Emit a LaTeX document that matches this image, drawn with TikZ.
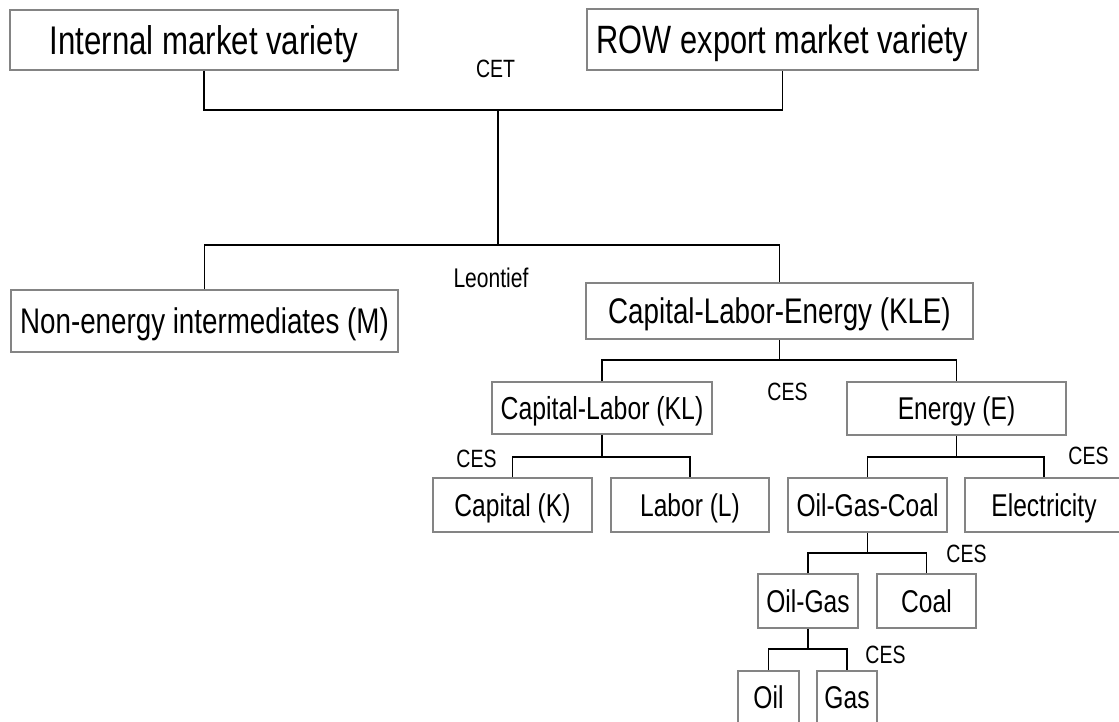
\documentclass[tikz,border=0pt]{standalone}
\usepackage{fontspec}
\newfontfamily\diagfont[FakeStretch=0.78]{Liberation Sans}
\definecolor{boxgray}{RGB}{132,132,132}
\begin{document}
\begin{tikzpicture}[x=1pt,y=-1pt,
	box/.style={draw=boxgray, line width=1.5pt, inner sep=0pt, font=\diagfont\fontsize{#1}{#1}\selectfont, text height=0.72*#1pt, text depth=0pt},
	box/.default=31.5,
	con/.style={black, line width=1.8pt},
	lab/.style={inner sep=0pt, font=\diagfont\fontsize{25}{30}\selectfont}]
	\clip (0,0) rectangle (1119,722);
	\node[box=40, minimum width=388, minimum height=60] (int) at (204,40) {Internal market variety};
	\node[box=39.5, minimum width=391, minimum height=61] (row) at (782.5,39.5) {ROW export market variety};
	\node[lab] (cet) at (495.5,69) {CET};
	\coordinate (t0) at (498,110);
	\coordinate (t1) at (498,245);
	\node[box=35.6, minimum width=387, minimum height=62] (nonen) at (204.5,321) {Non-energy intermediates (M)};
	\node[box=35.6, minimum width=387, minimum height=56] (kle) at (779.5,311) {Capital-Labor-Energy (KLE)};
	\node[lab, font=\diagfont\fontsize{27}{32}\selectfont] (leon) at (491,278) {Leontief};
	\coordinate (k0) at (779.5,360);
	\node[box=31.8, minimum width=220, minimum height=52] (kl) at (602,408) {Capital-Labor (KL)};
	\node[box, minimum width=219, minimum height=53] (en) at (956.5,408.5) {Energy (E)};
	\node[lab] (ces1) at (787.5,391.5) {CES};
	\coordinate (l0) at (602,457);
	\coordinate (e0) at (956.5,457);
	\node[box, minimum width=159, minimum height=54] (cap) at (512.5,505) {Capital (K)};
	\node[box, minimum width=158, minimum height=54] (lab) at (690,505) {Labor (L)};
	\node[box, minimum width=159, minimum height=54] (ogc) at (867.5,505) {Oil-Gas-Coal};
	\node[box, minimum width=158, minimum height=54] (elec) at (1044,505) {Electricity};
	\node[lab] (ces2) at (476.5,458.5) {CES};
	\node[lab] (ces3) at (1088.5,456) {CES};
	\coordinate (o0) at (867.5,553);
	\node[box, minimum width=100, minimum height=54] (og) at (808,601) {Oil-Gas};
	\node[box, minimum width=99, minimum height=54] (coal) at (926.5,601) {Coal};
	\node[lab] (ces4) at (966.5,554) {CES};
	\coordinate (g0) at (808,649);
	\node[box, minimum width=61, minimum height=52] (oil) at (768.5,697) {Oil};
	\node[box, minimum width=60, minimum height=52] (gas) at (847,697) {Gas};
	\node[lab] (ces5) at (885.5,654.5) {CES};
	\draw[con] (int.south) |- (t0) -| (row.south);
	\draw[con] (t0) -- (t1);
	\draw[con] (nonen.north) |- (t1) -| (kle.north);
	\draw[con] (kle.south) -- (k0);
	\draw[con] (kl.north) |- (k0) -| (en.north);
	\draw[con] (kl.south) -- (l0);
	\draw[con] (cap.north) |- (l0) -| (lab.north);
	\draw[con] (en.south) -- (e0);
	\draw[con] (ogc.north) |- (e0) -| (elec.north);
	\draw[con] (ogc.south) -- (o0);
	\draw[con] (og.north) |- (o0) -| (coal.north);
	\draw[con] (og.south) -- (g0);
	\draw[con] (oil.north) |- (g0) -| (gas.north);
\end{tikzpicture}
\end{document}
